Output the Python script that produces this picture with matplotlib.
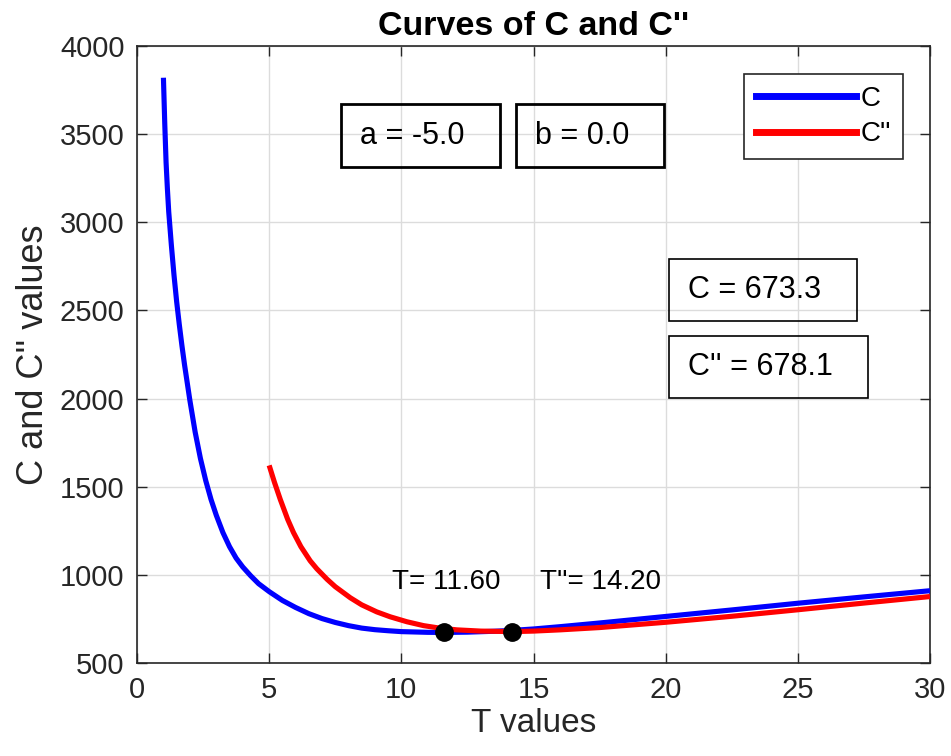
## IMPORTS
import matplotlib
matplotlib.use('Agg')
import matplotlib.pyplot as plt
from matplotlib.lines import Line2D
from matplotlib.patches import Rectangle
#

## DATA
T_c = [1.0, 1.05, 1.1, 1.15, 1.2, 1.3, 1.4, 1.5, 1.6, 1.7, 1.8, 1.9, 2.0,
       2.2, 2.4, 2.6, 2.8, 3.0, 3.25, 3.5, 3.75, 4.0, 4.3, 4.6, 5.0, 5.5,
       6.0, 6.5, 7.0, 7.5, 8.0, 8.5, 9.0, 9.5, 10.0, 10.5, 11.0, 11.6,
       12.5, 13.5, 14.2, 15.0, 16.0, 17.5, 20.0, 22.5, 25.0, 27.5, 30.0]
C_vals = [3820, 3560, 3340, 3190, 3060, 2870, 2700, 2550, 2420, 2300, 2190, 2090, 1990,
          1810, 1660, 1535, 1428, 1338, 1240, 1160, 1095, 1045, 995, 950, 905, 855,
          815, 780, 752, 730, 712, 698, 689, 683, 678, 676, 674, 673.3,
          675, 680, 685, 693, 706, 727, 764, 801, 839, 875, 910]

T_c2 = [5.0, 5.2, 5.42, 5.7, 5.92, 6.2, 6.55, 6.8, 7.19, 7.5, 8.07, 8.5, 9.07, 9.58,
        10.21, 10.84, 11.4, 12.1, 13.0, 14.2, 15.0, 16.0, 17.5, 20.0, 22.5, 25.0,
        27.5, 30.0]
C2_vals = [1621, 1525, 1428, 1315, 1240, 1160, 1080, 1035, 975, 933, 870, 830, 790, 762,
           734, 712, 699, 688, 681, 678.1, 681, 688, 701, 731, 765, 802,
           840, 877]

T_opt = [11.6, 14.2]
C_opt = [673.3, 678.1]
a_val = -5.0
b_val = 0.0

x_ticks = [0, 5, 10, 15, 20, 25, 30]
y_ticks = [500, 1000, 1500, 2000, 2500, 3000, 3500, 4000]
#

## FIGURE
plt.rcParams['font.family'] = ['Liberation Sans', 'DejaVu Sans']
W, H = 951, 756
fig = plt.figure(figsize=(W / 100, H / 100), dpi=100)
ax = fig.add_axes([137 / W, 1 - 663 / H, (930 - 137) / W, (663 - 46) / H])
dark = '#262626'
#

## CURVES
ax.plot(T_c, C_vals, color='blue', lw=3.7, solid_capstyle='butt', solid_joinstyle='round', zorder=3)
ax.plot(T_c2, C2_vals, color='red', lw=3.7, solid_capstyle='butt', solid_joinstyle='round', zorder=4)
ax.plot(T_opt, C_opt, 'o', color='black', ms=12.5, zorder=5)
#

## ANNOTATIONS ON THE AXES
ax.text(9.65, 962, 'T= %.2f' % T_opt[0], fontsize=20, va='center', ha='left', color='black')
ax.text(15.24, 962, "T''= %.2f" % T_opt[1], fontsize=20, va='center', ha='left', color='black')
#

## AXES STYLE
ax.set_xlim(0, 30)
ax.set_ylim(500, 4000)
ax.set_xticks(x_ticks)
ax.set_yticks(y_ticks)
ax.grid(True, color='#dcdcdc', lw=1.0)
ax.set_axisbelow(True)
ax.tick_params(direction='in', length=7, width=1.0, top=True, right=True,
               labelsize=21, colors=dark, pad=9)
for s in ax.spines.values():
    s.set_color(dark)
    s.set_linewidth(1.2)
ax.set_title("Curves of C and C''", fontsize=24.5, fontweight='bold', pad=8)
ax.set_xlabel('T values', fontsize=24, color=dark, labelpad=3)
ax.set_ylabel("C and C'' values", fontsize=26, color=dark, labelpad=6)
#

## LEGEND
handles = [Line2D([], [], color='blue', lw=5), Line2D([], [], color='red', lw=5)]
leg = ax.legend(handles, ['C', "C''"], loc='upper right',
                bbox_to_anchor=(903 / W, 1 - 74 / H), bbox_transform=fig.transFigure,
                borderaxespad=0, fancybox=False, fontsize=20, handlelength=3.6,
                handletextpad=0.18, labelspacing=0.35, borderpad=0.42, framealpha=1)
leg.get_frame().set_edgecolor(dark)
leg.get_frame().set_linewidth(1.2)
#

## TEXT BOXES (pixel positions of the reference)
def text_box(x0, y0, x1, y1, txt, lw):
    fig.patches.append(Rectangle((x0 / W, 1 - y1 / H), (x1 - x0) / W, (y1 - y0) / H,
                                 transform=fig.transFigure, fill=False, edgecolor='black',
                                 lw=lw, zorder=10))
    fig.text((x0 + 19) / W, 1 - (y0 + y1) / 2 / H, txt, fontsize=22, va='center',
             ha='left', zorder=11)

text_box(341, 104, 500, 167, 'a = %.1f' % a_val, 2.0)
text_box(516, 104, 664, 167, 'b = %.1f' % b_val, 2.0)
text_box(669, 259, 857, 321, 'C = %.1f' % C_opt[0], 1.2)
text_box(669, 336, 868, 398, "C'' = %.1f" % C_opt[1], 1.2)
#

fig.savefig('out.png', dpi=100)
